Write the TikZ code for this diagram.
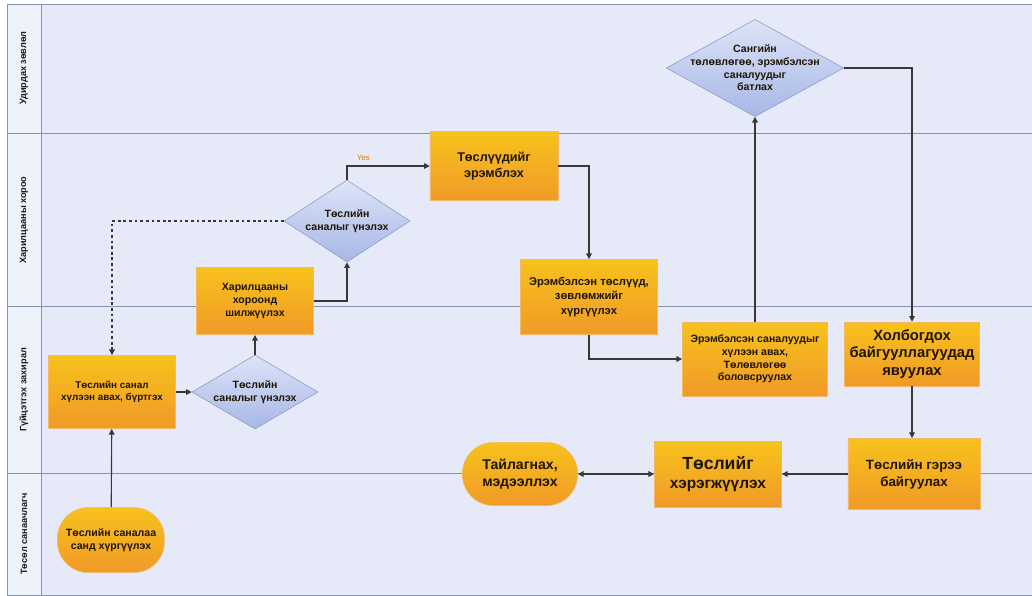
\documentclass[tikz,border=0pt]{standalone}
\usepackage{fontspec}
\setmainfont{Liberation Sans}
\usetikzlibrary{shapes.geometric,arrows.meta}
\usepackage{xcolor}

\definecolor{lanebg}{HTML}{E6EAF8}
\definecolor{headbg}{HTML}{EEF2FB}
\definecolor{laneline}{HTML}{8792AE}
\definecolor{boxtop}{HTML}{F7C21C}
\definecolor{boxbot}{HTML}{F09A28}
\definecolor{dtop}{HTML}{DDE4F8}
\definecolor{dbot}{HTML}{A7B7E6}
\definecolor{dline}{HTML}{8A9ACB}
\definecolor{arrowc}{HTML}{383838}
\definecolor{inktext}{HTML}{1E1503}

\tikzset{
  task/.style={rectangle, draw=boxbot!70!white, top color=boxtop, bottom color=boxbot,
    align=center, text=inktext, inner sep=1pt, font=\bfseries\fontsize{7.5}{9}\selectfont},
  term/.style={task, rounded corners=0.78cm},
  check/.style={diamond, draw=dline, top color=dtop, bottom color=dbot, inner sep=0pt},
  dtext/.style={align=center, text=inktext, font=\bfseries\fontsize{7.5}{9}\selectfont},
  lane/.style={rotate=90, font=\bfseries\fontsize{6.5}{8}\selectfont, text=black!90},
  flow/.style={draw=arrowc, line width=0.8pt, -{Triangle[length=4pt,width=4pt]}}
}

\begin{document}
\begin{tikzpicture}[x=0.025cm,y=-0.025cm]
\useasboundingbox (0,0) rectangle (1032,595);

% swimlanes
\fill[lanebg] (7,4) rectangle (1032,595);
\fill[headbg] (7,4) rectangle (41,595);
\draw[laneline] (7,4) rectangle (1032,595);
\draw[laneline] (41,4) -- (41,595);
\foreach \y in {133,306,473}
    \draw[laneline] (7,\y) -- (1032,\y);

\node[lane] (l1) at (24,68)  {Удирдах зөвлөл};
\node[lane] (l2) at (24,220) {Харилцааны хороо};
\node[lane] (l3) at (24,390) {Гүйцэтгэх захирал};
\node[lane] (l4) at (24,534) {Төсөл санаачлагч};

% steps
\node[term, minimum width=2.68cm, minimum height=1.63cm] (n1) at (111,540)
    {Төслийн саналаа\\санд хүргүүлэх};
\node[task, minimum width=3.18cm, minimum height=1.83cm, font=\bfseries\fontsize{7}{8.5}\selectfont] (n2) at (112,392)
    {Төслийн санал\\хүлээн авах, бүртгэх};
\node[check, minimum width=3.15cm, minimum height=1.85cm,
    label={[dtext]center:Төслийн\\саналыг үнэлэх}] (n3) at (255,392) {};
\node[task, minimum width=2.93cm, minimum height=1.68cm] (n4) at (255,301)
    {Харилцааны\\хороонд\\шилжүүлэх};
\node[check, minimum width=3.15cm, minimum height=2.05cm,
    label={[dtext]center:Төслийн\\саналыг үнэлэх}] (n5) at (347,221) {};
\node[task, minimum width=3.2cm, minimum height=1.73cm, font=\bfseries\fontsize{9}{11}\selectfont] (n6) at (494,166)
    {Төслүүдийг\\эрэмблэх};
\node[task, minimum width=3.43cm, minimum height=1.88cm, font=\bfseries\fontsize{8}{10}\selectfont] (n7) at (589,297)
    {Эрэмбэлсэн төслүүд,\\зөвлөмжийг\\хүргүүлэх};
\node[task, minimum width=3.63cm, minimum height=1.85cm] (n8) at (755,359)
    {Эрэмбэлсэн саналуудыг\\хүлээн авах,\\Төлөвлөгөө\\боловсруулах};
\node[check, minimum width=4.43cm, minimum height=2.43cm,
    label={[dtext]center:Сангийн\\төлөвлөгөө, эрэмбэлсэн\\саналуудыг\\батлах}] (n9) at (755,68) {};
\node[task, minimum width=3.38cm, minimum height=1.6cm, font=\bfseries\fontsize{10.5}{12.5}\selectfont] (n10) at (912,354)
    {Холбогдох\\байгууллагуудад\\явуулах};
\node[task, minimum width=3.3cm, minimum height=1.78cm, font=\bfseries\fontsize{9.5}{12}\selectfont] (n11) at (914,474)
    {Төслийн гэрээ\\байгуулах};
\node[task, minimum width=3.18cm, minimum height=1.65cm, font=\bfseries\fontsize{11}{14}\selectfont] (n12) at (718,474)
    {{\fontsize{12.5}{14}\selectfont Төслийг}\\хэрэгжүүлэх};
\node[term, minimum width=2.88cm, minimum height=1.58cm, font=\bfseries\fontsize{10}{12.5}\selectfont] (n13) at (520,474)
    {Тайлагнах,\\мэдээллэх};

% connectors
\draw[flow] (n1) -- (n2);
\draw[flow] (n2) -- (n3);
\draw[flow] (n3) -- (n4);
\draw[flow] (n4.east) -| (n5.south);
\draw[flow, dash pattern=on 2pt off 2pt] (n5.west) -| (n2.north);
\draw[flow] (n5.north) |- node[pos=0.6, above, font=\fontsize{5.5}{6}\selectfont, text=orange!90!black] {Yes} (n6.west);
\draw[flow] (n6.east) -| (n7.north);
\draw[flow] (n7.south) |- (n8.west);
\draw[flow] (n8.north) -- (n9.south);
\draw[flow] (n9.east) -| (n10.north);
\draw[flow] (n10.south) -- (n10.south |- n11.north);
\draw[flow] (n11) -- (n12);
\draw[flow, {Triangle[length=4pt,width=4pt]}-{Triangle[length=4pt,width=4pt]}] (n12) -- (n13);
%
\end{tikzpicture}
\end{document}
